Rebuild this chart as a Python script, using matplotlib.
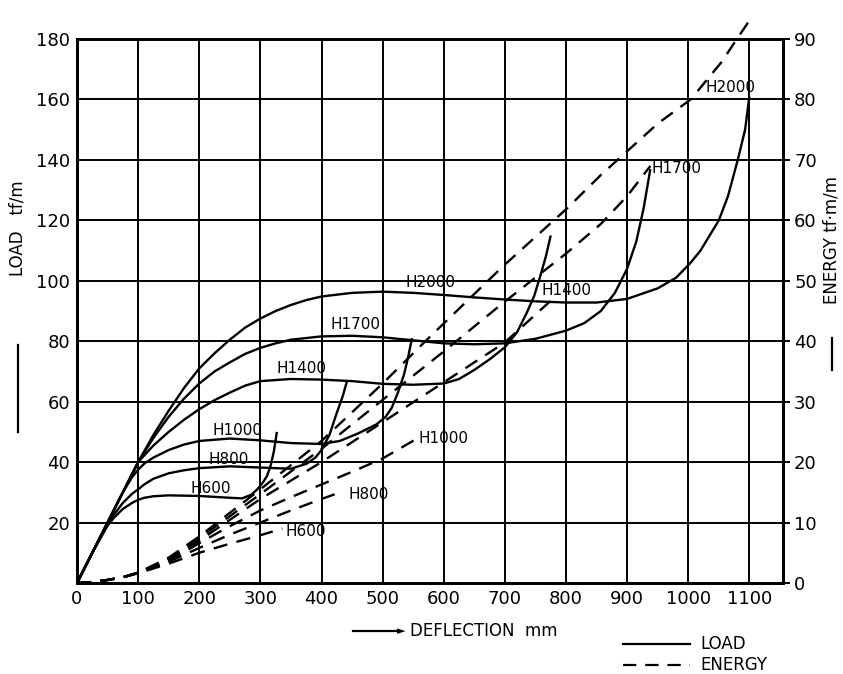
import matplotlib
matplotlib.use("Agg")
import matplotlib.pyplot as plt

# ---------------- data ----------------
# LOAD curves (tf/m) vs deflection (mm)
h600_x = [0, 25, 50, 60, 75, 90, 100, 110, 125, 150, 200, 250, 270, 285, 295, 305, 311, 317, 322, 327]
h600_y = [0, 10, 19, 21.5, 24.5, 26.5, 27.5, 28.2, 28.7, 29, 28.8, 28.2, 28.0, 29.2, 31, 33.5, 35.5, 39, 43.5, 50]

h800_x = [0, 25, 50, 60, 75, 90, 100, 110, 125, 150, 175, 200, 250, 300, 350, 376, 390, 400, 413, 425, 435, 442]
h800_y = [0, 10, 19.5, 22.5, 26.5, 29.5, 31, 32.6, 34.5, 36.3, 37.3, 38, 38.6, 38.2, 37.8, 39.5, 41.5, 44, 49,
          56.3, 62, 67]

h1000_x = [0, 25, 50, 75, 90, 100, 110, 125, 150, 175, 200, 250, 300, 350, 400, 430, 460, 490, 505, 515,
           525, 535, 542, 548]
h1000_y = [0, 10, 20, 30, 35, 37.5, 39.5, 41.5, 44, 45.8, 47, 47.8, 47.2, 46.3, 46, 47, 49.5, 52.5, 55, 58,
           63, 69, 75, 81]

h1400_x = [0, 25, 50, 75, 100, 125, 150, 175, 200, 225, 250, 275, 300, 350, 400, 450, 500, 550, 600, 625,
           650, 675, 700, 720, 736, 748, 758, 767, 775]
h1400_y = [0, 10, 20, 30, 40, 45.5, 50, 54, 57.5, 60.5, 63, 65.3, 66.8, 67.5, 67.3, 66.8, 65.9, 65.6, 66,
           67.5, 70.5, 74, 78, 83, 89.5, 95, 101.6, 108, 115]

h1700_x = [0, 25, 50, 75, 100, 125, 150, 175, 200, 225, 250, 275, 300, 325, 350, 400, 450, 500, 550, 600,
           650, 700, 750, 800, 830, 857, 880, 900, 915, 927, 938]
h1700_y = [0, 10, 20, 30, 40, 48, 55, 61, 66, 70, 73, 75.8, 77.8, 79.3, 80.5, 81.6, 81.8, 81.3, 80.3, 79.3,
           79, 79.3, 80.8, 83.5, 86, 90, 96, 104, 113, 124, 137]

h2000_x = [0, 25, 50, 75, 100, 125, 150, 175, 200, 225, 250, 275, 300, 325, 350, 375, 400, 450, 500, 550,
           600, 650, 700, 750, 800, 850, 900, 950, 980, 1004, 1020, 1035, 1050, 1065, 1081, 1093, 1100]
h2000_y = [0, 10, 20, 30, 40, 49, 57, 64.5, 71, 76, 80.5, 84.5, 87.5, 90, 92, 93.6, 94.8, 96, 96.4, 96,
           95.3, 94.5, 93.8, 93.2, 92.8, 92.8, 94, 97.5, 101, 106, 110, 115, 120, 128, 140, 150, 161]

# ENERGY curves (tf.m/m) vs deflection (mm)
e600_x = [0, 25, 50, 75, 100, 150, 200, 250, 300, 336]
e600_y = [0, 0.15, 0.5, 0.95, 1.6, 3.2, 5.0, 6.5, 7.9, 9.0]

e800_x = [0, 25, 50, 75, 100, 150, 200, 250, 300, 350, 400, 436]
e800_y = [0, 0.15, 0.5, 0.95, 1.7, 3.5, 5.8, 8.0, 10.0, 12.0, 13.9, 15.2]

e1000_x = [0, 25, 50, 75, 100, 150, 200, 250, 300, 350, 400, 450, 500, 553]
e1000_y = [0, 0.15, 0.5, 0.95, 1.7, 3.6, 6.6, 9.4, 12.0, 14.2, 16.3, 18.4, 20.6, 23.7]

e1400_x = [0, 25, 50, 75, 100, 150, 200, 300, 400, 500, 600, 700, 775]
e1400_y = [0, 0.15, 0.5, 0.95, 1.7, 3.9, 7.0, 13.9, 20.0, 26.6, 33.2, 39.8, 46.7]

e1700_x = [0, 25, 50, 75, 100, 150, 200, 300, 400, 500, 600, 693, 800, 857, 900, 938]
e1700_y = [0, 0.15, 0.5, 0.95, 1.7, 4.0, 7.4, 14.7, 22.2, 30.3, 38.3, 46.0, 54.5, 59.4, 64.0, 69.0]

e2000_x = [0, 25, 50, 75, 100, 150, 200, 300, 400, 500, 573, 698, 802, 857, 950, 1004, 1053, 1105]
e2000_y = [0, 0.15, 0.5, 0.95, 1.7, 4.2, 7.7, 15.5, 23.5, 33.0, 40.3, 52.5, 62.0, 67.5, 76.0, 80.0, 86.0, 93.8]

x_ticks = [0, 100, 200, 300, 400, 500, 600, 700, 800, 900, 1000, 1100]
load_ticks = [20, 40, 60, 80, 100, 120, 140, 160, 180]
energy_ticks = [0, 10, 20, 30, 40, 50, 60, 70, 80, 90]

# ---------------- figure ----------------
W, H = 843, 674
fig = plt.figure(figsize=(W / 100, H / 100), dpi=100)
L, R, B, T = 77, 783, 583, 39
ax = fig.add_axes([L / W, 1 - B / H, (R - L) / W, (B - T) / H])
ax.set_xlim(0, 1155)
ax.set_ylim(0, 180)
ax2 = ax.twinx()
ax2.set_ylim(0, 90)

ax.set_xticks(x_ticks)
ax.set_yticks(load_ticks)
ax2.set_yticks(energy_ticks)
ax.grid(True, color="black", lw=1.4)
ax.set_axisbelow(True)
for a in (ax, ax2):
    for s in a.spines.values():
        s.set_linewidth(2.0)
        s.set_color("black")

tick_font = dict(fontsize=13)
ax.set_xticklabels([str(v) for v in x_ticks], **tick_font)
ax.set_yticklabels([str(v) for v in load_ticks], **tick_font)
ax2.set_yticklabels([str(v) for v in energy_ticks], **tick_font)
ax.tick_params(axis="both", length=0, pad=5)
ax2.tick_params(axis="y", length=5, width=1.4, pad=3)

lw = 1.7
for xs, ys in [(h600_x, h600_y), (h800_x, h800_y), (h1000_x, h1000_y),
               (h1400_x, h1400_y), (h1700_x, h1700_y), (h2000_x, h2000_y)]:
    ax.plot(xs, ys, color="black", lw=lw, solid_capstyle="butt", solid_joinstyle="round")

for xs, ys in [(e600_x, e600_y), (e800_x, e800_y), (e1000_x, e1000_y),
               (e1400_x, e1400_y), (e1700_x, e1700_y)]:
    ax2.plot(xs, ys, color="black", lw=lw, dashes=(6, 4))
ax2.plot(e2000_x, e2000_y, color="black", lw=lw, dashes=(6, 4), clip_on=False)

lab = dict(fontsize=11, ha="center", va="center", color="black")
# load labels
ax.text(218, 31.2, "H600", **lab)
ax.text(248, 41.0, "H800", **lab)
ax.text(263, 50.4, "H1000", **lab)
ax.text(367, 71.0, "H1400", **lab)
ax.text(455, 85.6, "H1700", **lab)
ax.text(579, 99.3, "H2000", **lab)
# energy / end labels
ax.text(375, 17.0, "H600", **lab)
ax.text(478, 29.2, "H800", **lab)
ax.text(600, 47.8, "H1000", **lab)
ax.text(801, 96.8, "H1400", **lab)
ax.text(981, 137.0, "H1700", **lab)
ax.text(1069, 164.0, "H2000", **lab)

# axis titles
fig.text(18 / W, 1 - 228 / H, "LOAD   tf/m", rotation=90, ha="center", va="center", fontsize=12)
fig.add_artist(plt.Line2D([18 / W, 18 / W], [1 - 432 / H, 1 - 345 / H], color="black", lw=1.6))
fig.text(832 / W, 1 - 240 / H, "ENERGY tf\u00b7m/m", rotation=90, ha="center", va="center", fontsize=12)
fig.add_artist(plt.Line2D([832 / W, 832 / W], [1 - 370 / H, 1 - 338 / H], color="black", lw=1.6))

fig.add_artist(plt.Line2D([353 / W, 400 / W], [1 - 631 / H, 1 - 631 / H], color="black", lw=1.6))
fig.text(397 / W, 1 - 631 / H, "\u25ba", ha="left", va="center", fontsize=8)
fig.text(410 / W, 1 - 631 / H, "DEFLECTION  mm", ha="left", va="center", fontsize=12)

# legend
fig.add_artist(plt.Line2D([623 / W, 690 / W], [1 - 644 / H, 1 - 644 / H], color="black", lw=1.6))
fig.text(700 / W, 1 - 644 / H, "LOAD", ha="left", va="center", fontsize=12)
fig.add_artist(plt.Line2D([623 / W, 690 / W], [1 - 665 / H, 1 - 665 / H], color="black", lw=1.6,
                          dashes=(6, 4)))
fig.text(700 / W, 1 - 665 / H, "ENERGY", ha="left", va="center", fontsize=12)

fig.savefig("out.png", dpi=100)
